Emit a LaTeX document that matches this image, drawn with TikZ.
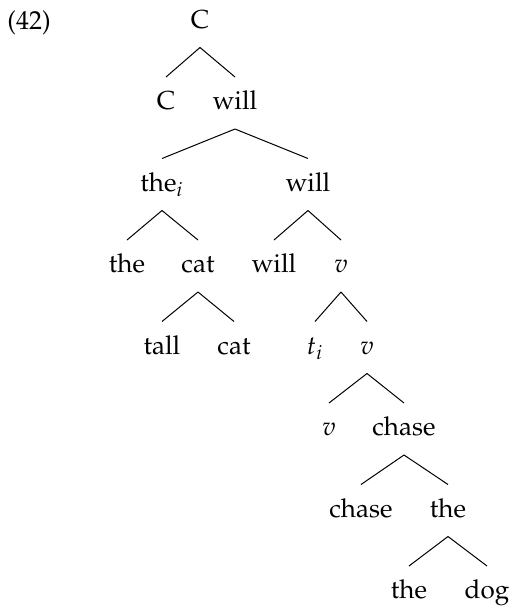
\documentclass[tikz,border=0pt]{standalone}
\usepackage[T1]{fontenc}
\usepackage{mathpazo}

\tikzset{every picture/.style={line width=0.5pt}}
\tikzset{word/.style={anchor=base, text height=9pt, text depth=2.5pt, inner ysep=7pt, inner xsep=0pt, font=\fontsize{13}{15}\selectfont}}

\begin{document}
\begin{tikzpicture}[x=0.5pt,y=0.5pt,yscale=-1,xscale=1]
	\useasboundingbox (0,0) rectangle (511,606); %page size

	% Text Node
	\node [word, anchor=base west] (exnum) at (7,29) {(42)};

	% Text Node
	\node [word] (cRoot) at (200,28) {C};
	% Text Node
	\node [word] (cHead) at (166,109.5) {C};
	% Text Node
	\node [word] (willC) at (235,109.5) {will};
	% Text Node
	\node [word] (theI) at (162,191) {the$_i$};
	% Text Node
	\node [word] (willT) at (308,191) {will};
	% Text Node
	\node [word] (theD) at (127,272.5) {the};
	% Text Node
	\node [word] (catN) at (198,272.5) {cat};
	% Text Node
	\node [word] (willH) at (274,272.5) {will};
	% Text Node
	\node [word] (vP) at (341,272.5) {$v$};
	% Text Node
	\node [word] (tallA) at (162,354) {tall};
	% Text Node
	\node [word] (catB) at (234,354) {cat};
	% Text Node
	\node [word] (tI) at (315,354) {$t_i$};
	% Text Node
	\node [word] (vBar) at (367,354) {$v$};
	% Text Node
	\node [word] (vHead) at (329,435.5) {$v$};
	% Text Node
	\node [word] (chaseV) at (404,435.5) {chase};
	% Text Node
	\node [word] (chaseHead) at (361,517) {chase};
	% Text Node
	\node [word] (theDP) at (448,517) {the};
	% Text Node
	\node [word] (theHead) at (409,598.5) {the};
	% Text Node
	\node [word] (dogN) at (487,598.5) {dog};

	%Straight Lines
	\draw (cRoot.south) -- (cHead.north) ;
	\draw (cRoot.south) -- (willC.north) ;
	%Straight Lines
	\draw (willC.south) -- (theI.north) ;
	\draw (willC.south) -- (willT.north) ;
	%Straight Lines
	\draw (theI.south) -- (theD.north) ;
	\draw (theI.south) -- (catN.north) ;
	%Straight Lines
	\draw (willT.south) -- (willH.north) ;
	\draw (willT.south) -- (vP.north) ;
	%Straight Lines
	\draw (catN.south) -- (tallA.north) ;
	\draw (catN.south) -- (catB.north) ;
	%Straight Lines
	\draw (vP.south) -- (tI.north) ;
	\draw (vP.south) -- (vBar.north) ;
	%Straight Lines
	\draw (vBar.south) -- (vHead.north) ;
	\draw (vBar.south) -- (chaseV.north) ;
	%Straight Lines
	\draw (chaseV.south) -- (chaseHead.north) ;
	\draw (chaseV.south) -- (theDP.north) ;
	%Straight Lines
	\draw (theDP.south) -- (theHead.north) ;
	\draw (theDP.south) -- (dogN.north) ;

\end{tikzpicture}
\end{document}
